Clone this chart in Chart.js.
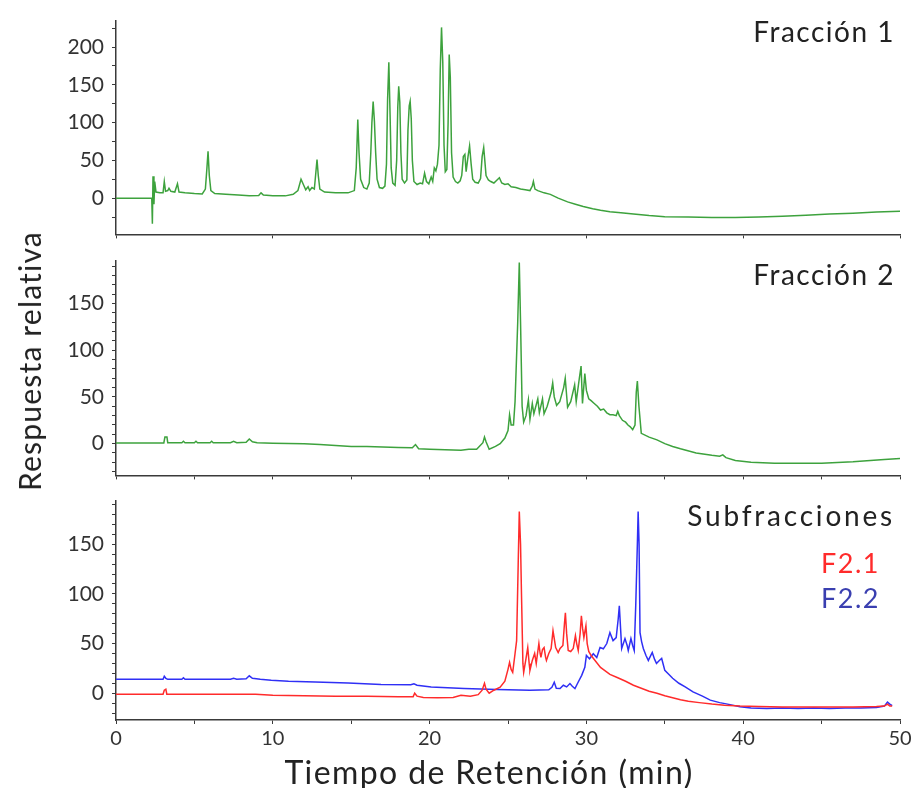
<!DOCTYPE html>
<html lang="es">
<head>
<meta charset="utf-8">
<title>Cromatogramas</title>
<script src="https://cdn.jsdelivr.net/npm/chart.js@4.4.1/dist/chart.umd.min.js"></script>
<style>
  html, body { margin: 0; padding: 0; background: #fff; }
  #fig { position: relative; width: 915px; height: 788px; overflow: hidden; font-family: Lato, "Open Sans", sans-serif; color: #222; }
  #fig canvas { position: absolute; left: 0; }
  .lbl { position: absolute; white-space: nowrap; line-height: 1; letter-spacing: 1.5px; }
  .ytitle { position: absolute; left: 29px; top: 361px; font-size: 30px; white-space: nowrap; letter-spacing: 1.2px;
            transform: translate(-50%, -50%) rotate(-90deg); line-height: 1; }
  .xtitle { position: absolute; left: 489px; top: 772px; font-size: 32px; white-space: nowrap; letter-spacing: 1.4px;
            transform: translate(-50%, -50%); line-height: 1; }
</style>
</head>
<body>
<div id="fig">
  <canvas id="c1" width="915" height="255" style="top:0px"></canvas>
  <canvas id="c2" width="915" height="256" style="top:240px"></canvas>
  <canvas id="c3" width="915" height="308" style="top:480px"></canvas>
  <div class="ytitle" id="ylab"></div>
  <div class="xtitle" id="xlab"></div>
  <div class="lbl" id="t1" style="right:20px; top:17px; font-size:28px;"></div>
  <div class="lbl" id="t2" style="right:20px; top:260px; font-size:28px;"></div>
  <div class="lbl" id="t3" style="right:20px; top:501px; font-size:28px; letter-spacing:2.8px;"></div>
  <div class="lbl" id="s1" style="left:821px; top:549px; font-size:27px;"></div>
  <div class="lbl" id="s2" style="left:821px; top:584px; font-size:27px;"></div>
</div>
<script>
// Panel titles, series names and axis titles
const panelTitles = ['Fracción 1', 'Fracción 2', 'Subfracciones'];
const subNames = ['F2.1', 'F2.2'];
const xTitle = 'Tiempo de Retención (min)';
const yTitle = 'Respuesta relativa';

// Axis tick labels
const xTickLabels = [0, 10, 20, 30, 40, 50];
const yTickLabels1 = [0, 50, 100, 150, 200];
const yTickLabels2 = [0, 50, 100, 150];
const yTickLabels3 = [0, 50, 100, 150];

// Chromatogram traces: [retention time (min), relative response]
const fraccion1 = [
  [0,0],[2.2,0],[2.28,0],[2.32,-34],[2.36,29],[2.42,-8],[2.47,22],[2.55,8],[2.8,7],[3.0,7],[3.08,22],[3.16,9],
  [3.3,10],[3.38,13],[3.5,9],[3.75,8],[3.92,19],[4.02,8],[4.4,7],[5.0,6],[5.5,5.5],[5.7,12],[5.8,40],[5.87,62],
  [5.95,30],[6.05,10],[6.3,6],[7.0,5],[7.8,4],[8.5,3],[9.1,3.5],[9.25,7],[9.4,4],[10,3],[10.8,3],[11.3,5],
  [11.6,10],[11.8,25],[11.95,18],[12.1,11],[12.25,15],[12.35,10],[12.5,14],[12.65,12],[12.75,35],[12.82,51],
  [12.9,30],[13.0,12],[13.3,8],[14,7],[14.8,7],[15.2,10],[15.32,40],[15.42,104],[15.5,60],[15.6,25],[15.8,14],
  [16.0,12],[16.15,20],[16.25,60],[16.32,100],[16.4,128],[16.48,102],[16.56,60],[16.65,25],[16.8,14],[17.0,13],
  [17.15,16],[17.25,45],[17.32,130],[17.4,180],[17.48,110],[17.55,40],[17.65,20],[17.8,17],[17.9,50],[17.97,120],
  [18.03,148],[18.1,127],[18.17,60],[18.25,25],[18.4,20],[18.55,24],[18.62,90],[18.7,122],[18.76,128],[18.83,105],
  [18.9,50],[19.0,22],[19.2,18],[19.4,20],[19.55,19],[19.68,33],[19.8,22],[19.95,19],[20.1,28],[20.2,22],[20.3,40],
  [20.4,36],[20.5,45],[20.6,70],[20.68,170],[20.76,226],[20.84,180],[20.92,70],[21.0,35],[21.1,38],[21.18,100],
  [21.25,190],[21.32,160],[21.4,60],[21.5,28],[21.65,22],[21.8,20],[21.95,23],[22.05,30],[22.15,55],[22.25,58],
  [22.33,35],[22.45,55],[22.55,69],[22.65,45],[22.75,25],[22.9,21],[23.1,20],[23.25,26],[23.35,55],[23.45,67],
  [23.52,50],[23.6,30],[23.75,24],[23.9,22],[24.1,20],[24.3,24],[24.45,27],[24.6,20],[24.8,18],[25.0,19],[25.2,15],
  [25.5,14],[25.8,12],[26.1,11],[26.4,10],[26.55,16],[26.62,22],[26.72,12],[26.9,10],[27.3,7],[27.7,5],[28.2,0],
  [28.8,-5],[29.3,-8],[29.8,-11],[30.4,-14],[30.9,-16],[31.5,-18],[32.2,-19.5],[33,-21],[34,-23],[35,-24.5],
  [36.5,-25],[38,-25.5],[39.5,-25.5],[41,-25],[42.5,-24],[44,-22.5],[45.5,-21],[47,-20],[48.5,-18.5],[50,-17.5]
];

const fraccion2 = [
  [0,0.7],[3.05,0.7],[3.12,7],[3.25,7],[3.3,1],[4.2,1],[4.3,2.5],[4.4,1],[5.0,1],[5.1,2.5],[5.2,1],[6.0,1],
  [6.1,2.5],[6.2,1],[7.3,1],[7.5,2.5],[7.7,1],[8.3,1.5],[8.5,5],[8.7,2],[9,1],[10,0.5],[12,0],[13,-1],[14,-2],
  [15,-3],[16,-3],[17,-3.5],[18,-4],[18.9,-4.5],[19.1,-1],[19.3,-5.5],[20,-6],[21,-6.5],[22,-7],[22.5,-6],[23,-6],
  [23.4,1],[23.5,7],[23.6,2],[23.8,-6],[24.2,-3],[24.5,0],[24.8,6],[25.0,14],[25.1,31],[25.2,20],[25.35,20],
  [25.45,45],[25.62,130],[25.72,194],[25.8,130],[25.9,40],[26.0,23],[26.15,30],[26.3,47],[26.4,26],[26.55,43],
  [26.65,32],[26.9,48],[27.0,33],[27.2,48],[27.3,32],[27.5,40],[27.75,55],[27.85,65],[27.95,50],[28.1,41],
  [28.3,45],[28.55,60],[28.65,70],[28.8,39],[29.0,45],[29.25,63],[29.35,45],[29.55,70],[29.66,83],[29.75,43],
  [29.9,75],[30.0,57],[30.15,48],[30.3,46],[30.5,43],[30.7,40],[30.9,36],[31.1,37],[31.3,33],[31.5,31],[31.7,31],
  [31.9,30],[32.0,34.5],[32.1,30],[32.3,25],[32.5,23],[32.65,20],[32.8,18],[32.95,15],[33.1,20],[33.18,55],
  [33.25,67],[33.35,40],[33.5,11],[34,7],[34.5,4],[35,0],[35.5,-3],[36,-5.5],[37,-10],[38,-12.5],[38.5,-13.5],
  [38.7,-12],[38.9,-15],[39.5,-18],[40.5,-20],[42,-21],[45,-21],[47,-19.5],[49,-17],[50,-16]
];

const subfraccion21 = [
  [0,-1],[3.0,-1],[3.08,3],[3.18,4],[3.24,-1],[6,-1],[8.9,-1],[10,-2],[12,-2.5],[14,-3],[16,-3],[18,-3.5],
  [18.95,-3.5],[19.05,0],[19.2,-3],[19.6,-4.3],[20.5,-4.5],[21.5,-4.3],[22,-2],[22.6,-3],[23.1,-1.5],[23.35,3],
  [23.5,10],[23.6,4],[23.8,0],[24.1,3],[24.5,6],[24.8,12],[25.0,24],[25.1,31],[25.2,24],[25.3,21],[25.45,40],
  [25.55,53],[25.65,130],[25.72,183],[25.8,150],[25.86,100],[25.95,30],[26.0,21],[26.15,35],[26.26,46],[26.35,30],
  [26.4,23],[26.55,33],[26.7,40],[26.8,30],[26.9,42],[26.97,50],[27.05,40],[27.1,36],[27.2,44],[27.3,46],[27.4,36],
  [27.45,33],[27.6,40],[27.75,45],[27.87,63],[27.95,55],[28.04,46],[28.2,41],[28.32,45],[28.5,48],[28.6,70],
  [28.66,81],[28.74,60],[28.84,43],[29.0,42],[29.16,45],[29.3,58],[29.38,50],[29.48,43],[29.6,60],[29.68,78],
  [29.76,65],[29.84,56],[29.97,68],[30.05,50],[30.15,42],[30.3,38],[30.5,34],[30.9,26],[31.5,19],[32,15.5],
  [32.5,12],[33,8],[33.5,5],[34,2],[34.5,0],[35,-2.5],[35.5,-4.5],[36,-6.5],[36.5,-8],[37.2,-9.5],[38,-11],
  [38.8,-12.2],[39.8,-13],[41,-13.5],[42.5,-14],[44,-14],[45.5,-14],[47,-14],[48.5,-13.5],[49.0,-13],[49.2,-11],
  [49.35,-13],[49.5,-13]
];

const subfraccion22 = [
  [0,14],[3.0,14],[3.08,17],[3.18,15],[3.3,14],[4.2,14],[4.3,15.5],[4.4,14],[6,14],[7.3,14],[7.5,15],[7.7,14],
  [8.3,14.5],[8.5,17.5],[8.7,15],[9.2,14],[9.9,13],[11,12],[12.7,11.3],[14.8,10.3],[16.9,8.7],[18.8,8.5],[19.0,9.5],
  [19.2,8],[20.1,6.3],[22.2,4.7],[24.3,3.7],[26.4,3],[27.6,3.5],[27.8,6],[27.95,11],[28.08,5],[28.32,4.7],
  [28.53,8],[28.74,6.3],[28.95,9.7],[29.1,7],[29.27,4.7],[29.48,11.3],[29.7,18],[29.9,26],[30.0,38],[30.2,34.7],
  [30.44,39.7],[30.66,36],[30.87,46],[31.08,44.7],[31.3,50],[31.5,61],[31.7,53],[31.9,56],[32.03,75],[32.1,88],
  [32.18,65],[32.25,45],[32.46,55],[32.6,48],[32.67,43],[32.84,55],[32.95,48],[33.05,43],[33.15,90],[33.25,150],
  [33.3,183],[33.36,150],[33.42,61],[33.52,52],[33.63,45],[33.8,38],[33.95,33],[34.2,41],[34.35,34],[34.47,30],
  [34.65,33],[34.8,35],[35.0,23],[35.25,19],[35.5,15],[35.9,10],[36.3,6.3],[36.8,1.3],[37.4,-3],[37.9,-7],
  [38.5,-9.5],[39,-11],[39.8,-13.7],[40.5,-15],[41.5,-15.5],[42.5,-15],[43.5,-15.5],[44.5,-15],[45.5,-15.5],
  [46.5,-15],[47.5,-15],[48.5,-14.5],[49.0,-13],[49.2,-9],[49.35,-11],[49.5,-12.5]
];

const GREEN = '#3da23d';
const RED = '#ff2b2b';
const BLUE = '#2f2ff5';
const FONT = 'Lato, "Open Sans", sans-serif';
const AXIS = '#3a3a3a';

document.getElementById('t1').textContent = panelTitles[0];
document.getElementById('t2').textContent = panelTitles[1];
document.getElementById('t3').textContent = panelTitles[2];
document.getElementById('xlab').textContent = xTitle;
document.getElementById('ylab').textContent = yTitle;
const s1 = document.getElementById('s1'); s1.textContent = subNames[0]; s1.style.color = RED;
const s2 = document.getElementById('s2'); s2.textContent = subNames[1]; s2.style.color = '#3a3fb0';

function toXY(rows) { return rows.map(r => ({ x: r[0], y: r[1] })); }
function steps(from, to, step) {
  const out = [];
  for (let v = Math.ceil(from / step) * step; v <= to + 1e-9; v += step) out.push(Math.round(v * 1000) / 1000);
  return out;
}
function trace(label, rows, color) {
  return { label, data: toXY(rows), borderColor: color, borderWidth: 1.5, pointRadius: 0, tension: 0, fill: false };
}

function panel(id, datasets, cfg) {
  const yMarks = steps(cfg.yMin, cfg.yMax, cfg.yStep);
  const xMarks = steps(0, 50, cfg.xStep);
  return new Chart(document.getElementById(id), {
    type: 'line',
    data: { datasets },
    options: {
      responsive: false,
      animation: false,
      layout: { padding: { left: 0, right: 15, top: cfg.padTop, bottom: 0 } },
      plugins: { legend: { display: false }, tooltip: { enabled: false } },
      scales: {
        x: {
          type: 'linear', min: 0, max: 50,
          afterBuildTicks: s => { s.ticks = xMarks.map(v => ({ value: v })); },
          afterFit: s => { s.height = cfg.xHeight; },
          ticks: {
            display: cfg.xLabels, autoSkip: false, maxRotation: 0, padding: 3,
            font: { family: FONT, size: 20 }, color: '#333',
            callback: v => (xTickLabels.includes(v) ? String(v) : '')
          },
          grid: { display: true, drawOnChartArea: false, drawTicks: true, tickLength: 4, tickColor: AXIS, tickWidth: 1 },
          border: { display: true, color: AXIS, width: 1.5 }
        },
        y: {
          type: 'linear', min: cfg.yMin, max: cfg.yMax,
          afterBuildTicks: s => { s.ticks = yMarks.map(v => ({ value: v })); },
          afterFit: s => { s.width = 116; },
          ticks: {
            autoSkip: false, padding: 8,
            font: { family: FONT, size: 21 }, color: '#333',
            callback: v => (cfg.yLabels.includes(v) ? String(v) : '')
          },
          grid: { display: true, drawOnChartArea: false, drawTicks: true, tickLength: 4, tickColor: AXIS, tickWidth: 1 },
          border: { display: true, color: AXIS, width: 1.5 }
        }
      }
    }
  });
}

panel('c1', [trace(panelTitles[0], fraccion1, GREEN)],
  { yMin: -48, yMax: 235, yStep: 25, yLabels: yTickLabels1, xStep: 10, xLabels: false, padTop: 15, xHeight: 20 });
panel('c2', [trace(panelTitles[1], fraccion2, GREEN)],
  { yMin: -34, yMax: 196, yStep: 10, yLabels: yTickLabels2, xStep: 5, xLabels: false, padTop: 20, xHeight: 20 });
panel('c3', [trace(subNames[0], subfraccion21, RED), trace(subNames[1], subfraccion22, BLUE)],
  { yMin: -27, yMax: 194, yStep: 10, yLabels: yTickLabels3, xStep: 5, xLabels: true, padTop: 18, xHeight: 68 });
</script>
</body>
</html>
